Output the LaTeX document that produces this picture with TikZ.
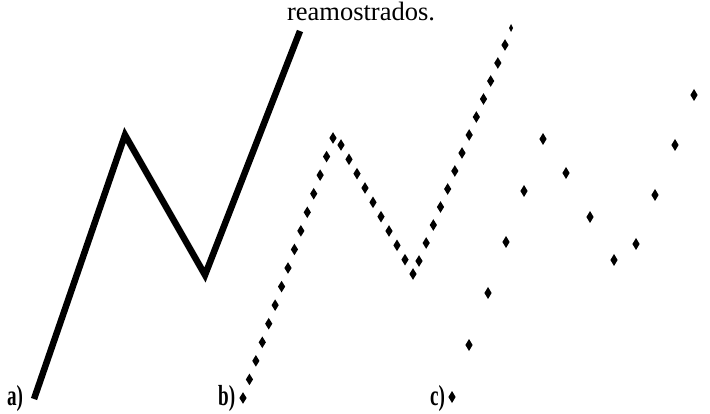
\documentclass[tikz,border=0pt]{standalone}
\usepackage{fontspec}
\setmainfont{Liberation Serif}
\usetikzlibrary{calc}
\tikzset{
  solidline/.style={line width=6.5pt, line join=miter, line cap=butt},
  lbl/.style={font=\bfseries\fontsize{29}{29}\selectfont, xscale=0.66, inner sep=0pt, anchor=base west},
}
\newcommand{\dia}[3]{\fill (#1) ++(0,-#3) -- ++(#2,#3) -- ++(-#2,#3) -- ++(-#2,-#3) -- cycle;}
\newcommand{\diarow}[3]{\foreach \k in {0,...,#3}{\dia{$(#1)!\k/#3!(#2)$}{3.6}{5.8}}}
\begin{document}
\begin{tikzpicture}[x=1pt,y=-1pt]
\useasboundingbox (0,0) rectangle (710,414);
% caption
\node[anchor=base, inner sep=0pt, font=\fontsize{26.5}{26.5}\selectfont] (cap) at (361,21) {reamostrados.};
% panel a
\draw[solidline] (34,399) -- (125,135) -- (205,275) -- (300,31);
\node[lbl] (la) at (7,405) {a)};
% panel b
\coordinate (b0) at (243,398);
\coordinate (b1) at (333,138);
\coordinate (b2) at (341,145);
\coordinate (b3) at (413,274);
\coordinate (b4) at (419,261);
\coordinate (b5) at (505,45);
\diarow{b0}{b1}{14}
\diarow{b2}{b3}{9}
\diarow{b4}{b5}{12}
\fill (511,28) ++(0,-4) -- ++(2,4) -- ++(-2,4) -- ++(-2,-4) -- cycle;
\node[lbl] (lb) at (218,405) {b)};
% panel c
\foreach \x/\y in {452/397, 469/345, 488/293, 506/242, 524/191, 543/139, 566/173, 590/217, 614/260, 636/244, 655/195, 675/145, 694/95}{\dia{\x,\y}{3.6}{6}}
\node[lbl] (lc) at (430,405) {c)};
\end{tikzpicture}
\end{document}
